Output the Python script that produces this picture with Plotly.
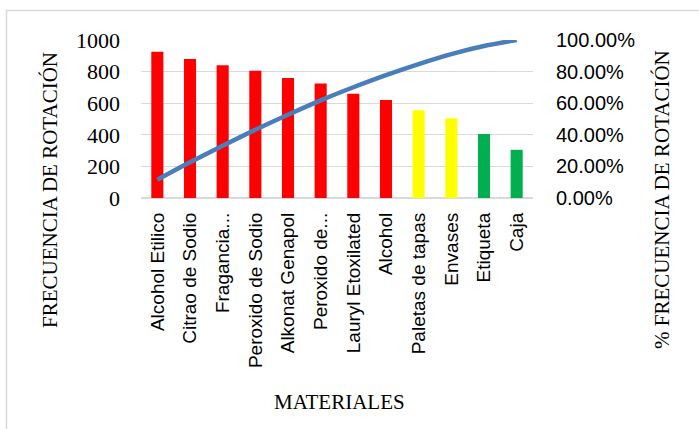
import plotly.graph_objects as go

categories = ["Alcohol Etilico", "Citrao de Sodio", "Fragancia...", "Peroxido de Sodio",
              "Alkonat Genapol", "Peroxido de...", "Lauryl Etoxilated", "Alcohol",
              "Paletas de tapas", "Envases", "Etiqueta", "Caja"]
frecuencia = [925, 880, 840, 805, 760, 725, 660, 620, 555, 505, 405, 305]
porcentaje_acum = [0.116, 0.226, 0.331, 0.432, 0.527, 0.618, 0.701, 0.778, 0.848, 0.911, 0.962, 1.0]
bar_colors = ["#FF0000"] * 8 + ["#FFFF00"] * 2 + ["#00B050"] * 2
y_ticks = [0, 200, 400, 600, 800, 1000]
y2_ticks = [0, 0.2, 0.4, 0.6, 0.8, 1.0]

W, H = 699, 429
L, R, T, B = 141, 166, 40, 231
pw, ph = W - L - R, H - T - B

def px_x(x):
    return (x - L) / pw

def px_y(y):
    return (H - B - y) / ph

fig = go.Figure()
fig.add_trace(go.Bar(x=categories, y=frecuencia, marker=dict(color=bar_colors, line=dict(width=0)),
                     yaxis="y", showlegend=False))
fig.add_trace(go.Scatter(x=categories, y=porcentaje_acum, yaxis="y2", mode="lines",
                         line=dict(color="#4A7EBB", width=4.5, shape="spline", smoothing=0.8),
                         showlegend=False))

serif = "Liberation Serif, Times New Roman, serif"
sans = "Liberation Sans, Arial, sans-serif"

fig.update_layout(
    width=W, height=H,
    margin=dict(l=L, r=R, t=T, b=B),
    paper_bgcolor="white", plot_bgcolor="white",
    bargap=0.63,
    xaxis=dict(tickangle=-90, tickfont=dict(family=sans, size=19, color="black"),
               showgrid=False, showline=False, ticks="", ticklabelstandoff=10,
               range=[-0.5, 11.5]),
    yaxis=dict(range=[0, 1000], tickvals=y_ticks, ticktext=[str(v) for v in y_ticks],
               tickfont=dict(family=serif, size=22, color="black"),
               showgrid=True, gridcolor="#D9D9D9", gridwidth=1,
               zeroline=True, zerolinecolor="#D9D9D9", zerolinewidth=1.5,
               showline=False, ticks="", ticklabelstandoff=20),
    yaxis2=dict(range=[0, 1.0], overlaying="y", side="right", tickvals=y2_ticks,
                ticktext=["%.2f%%" % (v * 100) for v in y2_ticks],
                tickfont=dict(family=sans, size=20, color="black"),
                showgrid=False, zeroline=False, showline=False, ticks="",
                ticklabelstandoff=22),
    annotations=[
        dict(text="FRECUENCIA DE ROTACIÓN", x=px_x(50), y=px_y(190), xref="paper", yref="paper",
             textangle=-90, showarrow=False, font=dict(family=serif, size=21, color="black"),
             xanchor="center", yanchor="middle"),
        dict(text="% FRECUENCIA DE ROTACIÓN", x=px_x(662), y=px_y(200), xref="paper", yref="paper",
             textangle=-90, showarrow=False, font=dict(family=serif, size=21, color="black"),
             xanchor="center", yanchor="middle"),
        dict(text="MATERIALES", x=px_x(339), y=px_y(402), xref="paper", yref="paper",
             showarrow=False, font=dict(family=serif, size=21, color="black"),
             xanchor="center", yanchor="middle"),
    ],
    shapes=[
        dict(type="rect", xref="paper", yref="paper", x0=px_x(6.5), x1=px_x(720),
             y0=px_y(450), y1=px_y(10.5), line=dict(color="#D9D9D9", width=1.5), layer="below"),
    ],
)

fig.write_html("out.html")
